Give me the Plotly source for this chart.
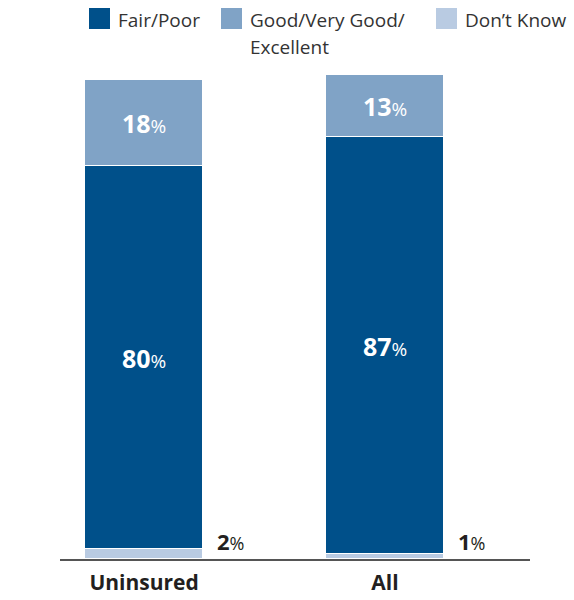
import plotly.graph_objects as go

# Data
categories = ["Uninsured", "All"]
fair_poor = [80, 87]
good_excellent = [18, 13]
dont_know = [2, 1]

# Styling
C_FAIR = "#00508a"
C_GOOD = "#80a3c6"
C_DK = "#b9cbe2"
TEXT = "#231f20"
FONT = "Open Sans"

W, H = 574, 600
ML, MR, MT, MB = 60, 44, 75, 41
PW, PH = W - ML - MR, H - MT - MB

x_pos = list(range(len(categories)))
bar_w = 0.49

fig = go.Figure()
stack = [
    ("Don’t Know", dont_know, C_DK),
    ("Fair/Poor", fair_poor, C_FAIR),
    ("Good/Very Good/ Excellent", good_excellent, C_GOOD),
]
for name, vals, col in stack:
    fig.add_trace(go.Bar(
        x=x_pos, y=vals, name=name, width=bar_w,
        marker=dict(color=col, line=dict(color="white", width=1.5)),
        showlegend=False, hoverinfo="skip",
    ))

annotations = []


def pct(v, big, small):
    return (f"<b><span style='font-size:{big}px'>{v}</span></b>"
            f"<span style='font-size:{small}px'>%</span>")


# Labels inside the two upper segments
for i in x_pos:
    base = dont_know[i]
    for vals in (fair_poor, good_excellent):
        v = vals[i]
        annotations.append(dict(
            x=i, y=base + v / 2, xref="x", yref="y",
            text=pct(v, 25, 19), showarrow=False,
            font=dict(family=FONT, color="white", size=25),
            xanchor="center", yanchor="middle",
        ))
        base += v
    # Small bottom segment labelled beside the bar
    annotations.append(dict(
        x=i + bar_w / 2 + 0.05, y=0, xref="x", yref="y",
        text=pct(dont_know[i], 22, 18), showarrow=False,
        font=dict(family=FONT, color=TEXT, size=22),
        xanchor="left", yanchor="bottom", yshift=1,
    ))


def px_to_paper(px, py):
    return (px - ML) / PW, (H - MB - py) / PH


# Legend drawn as swatches + labels
legend_items = [
    ("Fair/Poor", C_FAIR, 89, ["Fair/Poor"]),
    ("Good", C_GOOD, 221, ["Good/Very Good/", "Excellent"]),
    ("DK", C_DK, 436, ["Don’t Know"]),
]
shapes = []
SW = 21
for _, col, sx, lines in legend_items:
    x0, y0 = px_to_paper(sx, 29)
    x1, y1 = px_to_paper(sx + SW, 8)
    shapes.append(dict(type="rect", xref="paper", yref="paper",
                       x0=x0, x1=x1, y0=y0, y1=y1,
                       fillcolor=col, line=dict(width=0)))
    for k, line in enumerate(lines):
        tx, ty = px_to_paper(sx + SW + 6, 20 + 27 * k)
        annotations.append(dict(
            x=tx, y=ty, xref="paper", yref="paper", text=line,
            showarrow=False, xanchor="left", yanchor="middle",
            font=dict(family=FONT, size=19, color="#333333"),
        ))

fig.update_layout(
    barmode="stack",
    width=W, height=H,
    margin=dict(l=ML, r=MR, t=MT, b=MB, autoexpand=False),
    paper_bgcolor="white", plot_bgcolor="white",
    bargap=0,
    xaxis=dict(
        range=[-0.349, 1.602], tickvals=x_pos,
        ticktext=[f"<b>{c}</b>" for c in categories],
        tickfont=dict(family=FONT, size=21, color=TEXT),
        showgrid=False, zeroline=False, ticks="",
        showline=True, linecolor="#555555", linewidth=1.5,
        ticklabelstandoff=4, automargin=False,
    ),
    yaxis=dict(range=[0, 101], visible=False, showgrid=False,
               zeroline=False, automargin=False),
    annotations=annotations,
    shapes=shapes,
    showlegend=False,
)

fig.write_html("out.html")
